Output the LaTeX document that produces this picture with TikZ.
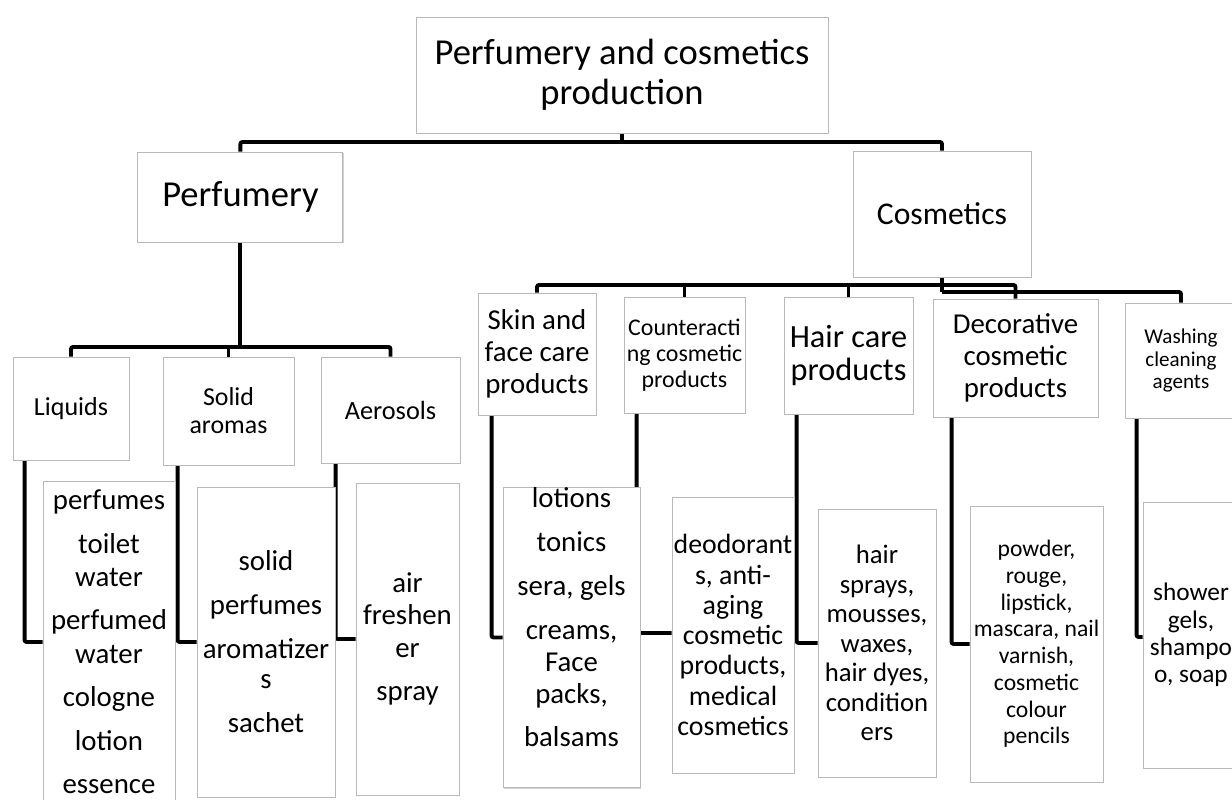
\documentclass[tikz,border=0pt]{standalone}
\usepackage{fontspec}
\setmainfont{Carlito}
\usetikzlibrary{calc}
\usetikzlibrary{shadows}
\usetikzlibrary{backgrounds}

\begin{document}
\begin{tikzpicture}[
    box/.style={draw=gray!55, line width=0.6pt, fill=white, align=center, inner sep=0pt,
        drop shadow={shadow xshift=0.8pt, shadow yshift=-1pt, opacity=0.35}},
    conn/.style={line width=2.8pt, rounded corners=1.5pt}
]
    \useasboundingbox (0,0) rectangle (30.8,-19.975);
    \coordinate (bar1) at (0,-3.55);
    \coordinate (bar2) at (0,-8.675);
    \coordinate (bar3) at (0,-7.125);
    \coordinate (bar3b) at (0,-7.3);

    % top levels
    \node[box, minimum width=10.3cm, minimum height=2.9cm, font=\fontsize{26}{28.5}\selectfont] (top) at (15.55,-1.875) {Perfumery and cosmetics\\production};
    \node[box, minimum width=5.125cm, minimum height=2.25cm, font=\fontsize{26}{28}\selectfont] (perf) at (6.01,-4.925) {Perfumery};
    \node[box, minimum width=4.45cm, minimum height=3.15cm, font=\fontsize{22.5}{25}\selectfont] (cosm) at (23.55,-5.35) {Cosmetics};

    % perfumery
    \node[box, minimum width=2.9cm, minimum height=2.575cm, font=\fontsize{18.5}{20}\selectfont] (liq) at (1.775,-10.2125) {Liquids};
    \node[box, minimum width=3.275cm, minimum height=2.7cm, font=\fontsize{18.4}{20}\selectfont] (sol) at (5.7125,-10.275) {Solid\\aromas};
    \node[box, minimum width=3.475cm, minimum height=2.65cm, font=\fontsize{18.7}{20}\selectfont] (aer) at (9.7625,-10.25) {Aerosols};
    \node[box, minimum width=3.3cm, minimum height=8.05cm, font=\fontsize{20.5}{23.5}\selectfont] (liqL) at (2.725,-16.05)
        {perfumes\\[7.5pt]toilet\\water\\[7.5pt]perfumed\\water\\[7.5pt]cologne\\[7.5pt]lotion\\[7.5pt]essence};
    \node[box, minimum width=3.45cm, minimum height=7.75cm, font=\fontsize{20.5}{21.3}\selectfont] (solL) at (6.65,-16.05)
        {solid\\[10pt]perfumes\\[10pt]aromatizer\\s\\[10pt]sachet};
    \node[box, minimum width=2.575cm, minimum height=7.8cm, font=\fontsize{20.5}{23}\selectfont] (aerL) at (10.1875,-15.975)
        {air\\freshen\\er\\[8pt]spray};

    % cosmetics
    \node[box, minimum width=2.95cm, minimum height=3.05cm, font=\fontsize{20.5}{22.7}\selectfont] (skin) at (13.425,-8.85) {Skin and\\face care\\products};
    \node[box, minimum width=3.025cm, minimum height=2.9cm, font=\fontsize{17}{18.5}\selectfont] (coun) at (17.1125,-8.875) {Counteracti\\ng cosmetic\\products};
    \node[box, minimum width=3.225cm, minimum height=2.925cm, font=\fontsize{23}{23.7}\selectfont] (hair) at (21.2125,-8.8875) {Hair care\\products};
    \node[box, minimum width=4.125cm, minimum height=2.95cm, font=\fontsize{20.5}{22.7}\selectfont] (deco) at (25.3875,-8.95) {Decorative\\cosmetic\\products};
    \node[box, minimum width=2.8cm, minimum height=2.875cm, font=\fontsize{15}{16}\selectfont] (wash) at (29.525,-9.0125) {Washing\\cleaning\\agents};
    \node[box, minimum width=3.425cm, minimum height=7.225cm, font=\fontsize{20.5}{22.7}\selectfont] (skinL) at (14.2875,-15.9375)
        {lotions\\[8.5pt]tonics\\[8.5pt]sera, gels\\[8.5pt]creams,\\Face\\packs,\\[8.5pt]balsams\\[6pt]};
    \node[box, minimum width=3.05cm, minimum height=6.9cm, font=\fontsize{19.8}{21.5}\selectfont] (counL) at (18.325,-15.875)
        {deodorant\\s, anti-\\aging\\cosmetic\\products,\\medical\\cosmetics};
    \node[box, minimum width=2.95cm, minimum height=6.7cm, font=\fontsize{19}{21}\selectfont] (hairL) at (21.925,-16.075)
        {hair\\sprays,\\mousses,\\waxes,\\hair dyes,\\condition\\ers};
    \node[box, minimum width=3.325cm, minimum height=6.9cm, font=\fontsize{16.8}{19}\selectfont] (decoL) at (25.9125,-16.1)
        {powder,\\rouge,\\lipstick,\\mascara, nail\\varnish,\\cosmetic\\colour\\pencils};
    \node[box, minimum width=2.4cm, minimum height=6.65cm, font=\fontsize{18}{19.5}\selectfont] (washL) at (29.775,-15.875)
        {shower\\gels,\\shampo\\o, soap};

    % connectors behind the boxes
    \begin{scope}[on background layer]
        \fill[white] (0,0) rectangle (30.8,-19.975);
        \draw[conn] (top.south) -- (top.south |- bar1);
        \draw[conn] (perf.north) -- (perf.north |- bar1) -- (cosm.north |- bar1) -- (cosm.north);
        \draw[conn] (perf.south) -- (perf.south |- bar2);
        \draw[conn] (liq.north) -- (liq.north |- bar2) -- (aer.north |- bar2) -- (aer.north);
        \draw[conn] (sol.north) -- (sol.north |- bar2);
        \draw[conn] ($(liq.south west)+(0.3,0)$) |- (liqL.west);
        \draw[conn] ($(sol.south west)+(0.375,0)$) |- (solL.west);
        \draw[conn] ($(aer.south west)+(0.375,0)$) |- (aerL.west);
        \draw[conn] (cosm.south) -- (cosm.south |- bar3b);
        \draw[conn] (skin.north) -- (skin.north |- bar3) -- (deco.north |- bar3) -- (deco.north);
        \draw[conn] (coun.north) -- (coun.north |- bar3);
        \draw[conn] (hair.north) -- (hair.north |- bar3);
        \draw[conn] (cosm.south |- bar3b) -- (wash.north |- bar3b) -- (wash.north);
        \draw[conn] ($(skin.south west)+(0.35,0)$) |- (skinL.west);
        \draw[conn] ($(coun.south west)+(0.325,0)$) |- ($(counL.west)+(0,0.05)$);
        \draw[conn] ($(hair.south west)+(0.325,0)$) |- (hairL.west);
        \draw[conn] ($(deco.south west)+(0.475,0)$) |- (decoL.west);
        \draw[conn] ($(wash.south west)+(0.3,0)$) |- ($(washL.west)+(0,-0.05)$);
    \end{scope}
\end{tikzpicture}
\end{document}
